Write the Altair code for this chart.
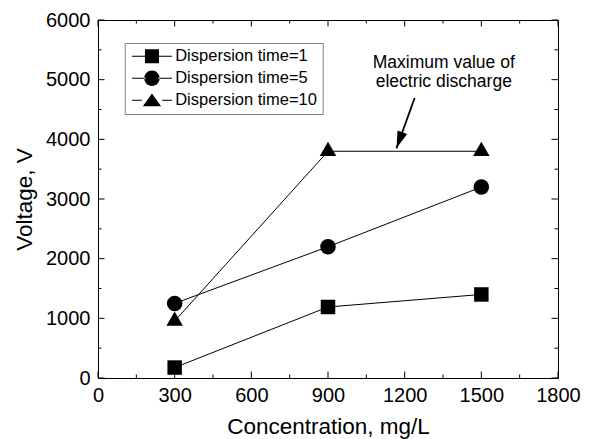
import altair as alt
import pandas as pd

# ---------------- data ----------------
series_names = ["Dispersion time=1", "Dispersion time=5", "Dispersion time=10"]
concentration = [300, 900, 1500]
voltage_t1 = [175, 1190, 1400]
voltage_t5 = [1250, 2200, 3200]
voltage_t10 = [955, 3800, 3800]

x_major = [0, 300, 600, 900, 1200, 1500, 1800]
x_minor = [150, 450, 750, 1050, 1350, 1650]
y_major = [0, 1000, 2000, 3000, 4000, 5000, 6000]
y_minor = [500, 1500, 2500, 3500, 4500, 5500]

note_text = ["Maximum value of\nelectric discharge"]
note_x = [1353]
note_y = [5190]
arrow_x = [1239]
arrow_y = [4692]
arrow_x2 = [1168]
arrow_y2 = [3849]

# ---------------- styling ----------------
FONT = "Liberation Sans"
W, H = 460, 358
XT = "Concentration, mg/L"
YT = "Voltage, V"

TRI = "M0,-1.158L1,0.579L-1,0.579Z"
marker_shapes = ["square", "circle", TRI]
marker_sizes = [210, 272, 361]

# legend symbols: marker with short line on each side (lines as thin filled bars)
LL = "M-2.86,-0.075L-0.9,-0.075L-0.9,0.075L-2.86,0.075Z"
RL = "M0.9,-0.075L2.86,-0.075L2.86,0.075L0.9,0.075Z"
leg_paths = [
    LL + RL + "M-1,-1L1,-1L1,1L-1,1Z",
    LL + RL + "M-1.1,0A1.1,1.1,0,1,0,1.1,0A1.1,1.1,0,1,0,-1.1,0Z",
    "M-2.86,-0.075L-1.45,-0.075L-1.45,0.075L-2.86,0.075Z"
    "M1.45,-0.075L2.86,-0.075L2.86,0.075L1.45,0.075Z"
    "M0,-0.95L1.3,0.85L-1.3,0.85Z",
]

rows = []
for name, vals in zip(series_names, [voltage_t1, voltage_t5, voltage_t10]):
    for c, v in zip(concentration, vals):
        rows.append({"series": name, "conc": c, "volt": v})
df = pd.DataFrame(rows)

x_scale = alt.Scale(domain=[0, 1800], nice=False, zero=False)
y_scale = alt.Scale(domain=[0, 6000], nice=False, zero=False)

x_axis = alt.Axis(values=x_major, labelPadding=7.5, titlePadding=10, format="d", labelFlush=False)
y_axis = alt.Axis(values=y_major, labelPadding=8, titlePadding=9, format="d", labelFlush=False)

base = alt.Chart(df)

lines = base.mark_line(color="black", strokeWidth=1).encode(
    x=alt.X("conc:Q", scale=x_scale, axis=x_axis, title=XT),
    y=alt.Y("volt:Q", scale=y_scale, axis=y_axis, title=YT),
    detail="series:N",
)

points = base.mark_point(filled=True, color="black", opacity=1).encode(
    x=alt.X("conc:Q", scale=x_scale, title=XT),
    y=alt.Y("volt:Q", scale=y_scale, title=YT),
    shape=alt.Shape("series:N", scale=alt.Scale(domain=series_names, range=marker_shapes), legend=None),
    size=alt.Size("series:N", scale=alt.Scale(domain=series_names, range=marker_sizes), legend=None),
)

legend_layer = base.transform_filter("false").mark_point(
    filled=True, color="black", opacity=1
).encode(
    x=alt.X("conc:Q", scale=x_scale, title=XT),
    y=alt.Y("volt:Q", scale=y_scale, title=YT),
    shape=alt.Shape(
        "series:N",
        scale=alt.Scale(domain=series_names, range=leg_paths),
        legend=alt.Legend(
            title=None,
            orient="none",
            legendX=26.7,
            legendY=23,
            labelFont=FONT,
            labelFontSize=16.5,
            labelColor="black",
            symbolSize=196,
            symbolOffset=14,
            labelOffset=15,
            padding=5,
            rowPadding=5,
            strokeColor="#808080",
            fillColor="white",
            symbolStrokeWidth=0,
            symbolFillColor="black",
        ),
    ),
)


def x_ticks(vals, length):
    d = pd.DataFrame({"v": vals})
    b = alt.Chart(d).mark_rule(color="black", strokeWidth=1).encode(
        x=alt.X("v:Q", scale=x_scale, title=XT), y=alt.value(H), y2=alt.value(H - length)
    )
    t = alt.Chart(d).mark_rule(color="black", strokeWidth=1).encode(
        x=alt.X("v:Q", scale=x_scale, title=XT), y=alt.value(0), y2=alt.value(length)
    )
    return [b, t]


def y_ticks(vals, length):
    d = pd.DataFrame({"v": vals})
    l = alt.Chart(d).mark_rule(color="black", strokeWidth=1).encode(
        y=alt.Y("v:Q", scale=y_scale, title=YT), x=alt.value(0), x2=alt.value(length)
    )
    r = alt.Chart(d).mark_rule(color="black", strokeWidth=1).encode(
        y=alt.Y("v:Q", scale=y_scale, title=YT), x=alt.value(W), x2=alt.value(W - length)
    )
    return [l, r]


ticks = x_ticks(x_major, 6.5) + x_ticks(x_minor, 3.5) + y_ticks(y_major, 6.5) + y_ticks(y_minor, 3.5)

note_df = pd.DataFrame({"x": note_x, "y": note_y, "t": note_text})
note = alt.Chart(note_df).mark_text(
    lineBreak="\n", align="center", baseline="alphabetic", fontSize=17.5, font=FONT, lineHeight=19, color="black"
).encode(
    x=alt.X("x:Q", scale=x_scale, title=XT),
    y=alt.Y("y:Q", scale=y_scale, title=YT),
    text="t:N",
)

arrow_df = pd.DataFrame({"x": arrow_x, "y": arrow_y, "x2": arrow_x2, "y2": arrow_y2})
arrow = alt.Chart(arrow_df).mark_rule(color="black", strokeWidth=1.8).encode(
    x=alt.X("x:Q", scale=x_scale, title=XT),
    y=alt.Y("y:Q", scale=y_scale, title=YT),
    x2="x2:Q",
    y2="y2:Q",
)
head = alt.Chart(arrow_df).mark_point(
    filled=True, color="black", opacity=1, shape="M0,0L-0.6,-2L0.6,-2Z", size=289, angle=20
).encode(
    x=alt.X("x2:Q", scale=x_scale, title=XT),
    y=alt.Y("y2:Q", scale=y_scale, title=YT),
)

chart = (
    alt.layer(*ticks, lines, points, legend_layer, arrow, head, note)
    .resolve_scale(shape="independent", size="independent")
    .properties(
        width=W,
        height=H,
        padding={"left": 90, "top": 12, "right": 29, "bottom": 61},
        autosize=alt.AutoSizeParams(type="none"),
        background="white",
    )
    .configure_view(stroke="black", strokeWidth=1)
    .configure_axis(
        grid=False,
        ticks=False,
        tickSize=0,
        domain=False,
        labelFont=FONT,
        labelFontSize=20,
        labelColor="black",
        titleFont=FONT,
        titleFontSize=22.5,
        titleFontWeight="normal",
        titleColor="black",
    )
)

chart.save("out.html", embed_options={"renderer": "svg", "actions": False})
